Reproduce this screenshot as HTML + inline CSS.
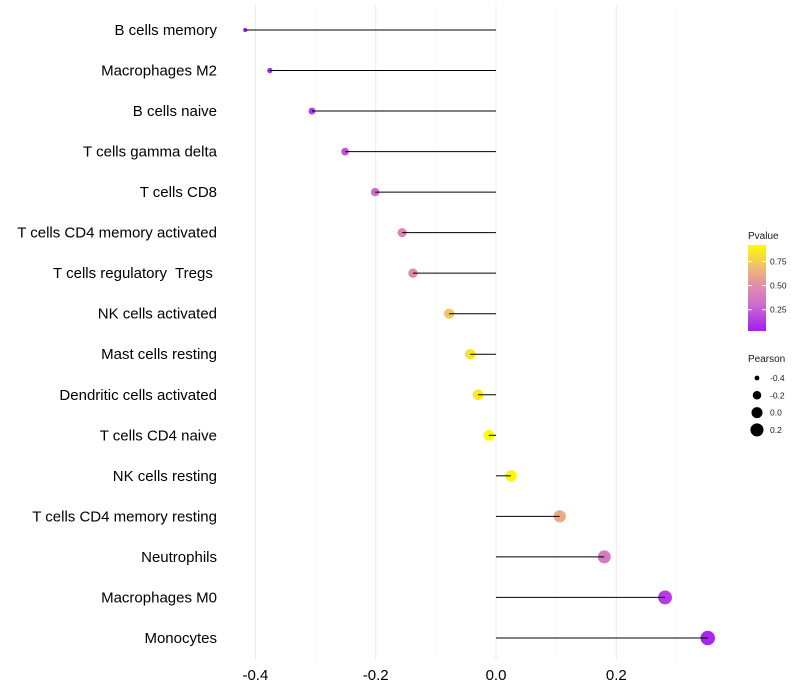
<!DOCTYPE html>
<html><head><meta charset="utf-8"><style>
body{margin:0;background:#fff;font-family:"Liberation Sans",sans-serif}
svg{display:block}
text{white-space:pre}
</style></head><body>
<svg id="chart" width="800" height="700"></svg>
<script>
const categories=["B cells memory","Macrophages M2","B cells naive","T cells gamma delta","T cells CD8","T cells CD4 memory activated","T cells regulatory  Tregs ","NK cells activated","Mast cells resting","Dendritic cells activated","T cells CD4 naive","NK cells resting","T cells CD4 memory resting","Neutrophils","Macrophages M0","Monocytes"];
const pearson=[-0.417,-0.376,-0.306,-0.251,-0.201,-0.156,-0.138,-0.078,-0.043,-0.030,-0.012,0.025,0.106,0.180,0.281,0.352];
const pvalues=[0.04,0.06,0.12,0.22,0.32,0.45,0.48,0.72,0.84,0.86,0.93,0.90,0.62,0.38,0.14,0.06];
const xTicks=[-0.4,-0.2,0.0,0.2];
const xTickLabels=["-0.4","-0.2","0.0","0.2"];
const minorTicks=[-0.3,-0.1,0.1,0.3];
const colorTicks=[0.25,0.5,0.75];
const colorTickLabels=["0.25","0.50","0.75"];
const sizeLegend=[-0.4,-0.2,0.0,0.2];
const sizeLegendLabels=["-0.4","-0.2","0.0","0.2"];

const NS="http://www.w3.org/2000/svg";
const svg=document.getElementById('chart');
function mk(t,a,p){const e=document.createElementNS(NS,t);for(const k in a)e.setAttribute(k,a[k]);(p||svg).appendChild(e);return e;}
const xS=v=>496+v*601.5;
const yS=i=>30+i*40.53;
const rS=v=>Math.sqrt(Math.max(2.5,30.5+62*v));
const stops=[[0,[160,32,240]],[0.33,[208,112,205]],[0.55,[226,145,165]],[0.75,[240,190,110]],[1,[255,252,0]]];
function col(p){const t=Math.max(0,Math.min(1,(p-0.03)/0.89));
 for(let k=1;k<stops.length;k++){if(t<=stops[k][0]){const a=stops[k-1],b=stops[k];const u=(t-a[0])/(b[0]-a[0]);
  return `rgb(${a[1].map((x,i)=>Math.round(x+(b[1][i]-x)*u))})`;}}
 return 'rgb(255,252,0)';}

const grid=mk('g',{});
minorTicks.forEach(v=>{mk('line',{x1:xS(v),x2:xS(v),y1:5,y2:660,stroke:'#f4f4f4','stroke-width':0.6},grid);});
xTicks.forEach(v=>{mk('line',{x1:xS(v),x2:xS(v),y1:5,y2:660,stroke:'#ebebeb','stroke-width':1},grid);});

categories.forEach((c,i)=>{
 const y=yS(i);
 const t=mk('text',{x:217,y:y+5,'text-anchor':'end','font-size':15,fill:'#000'});t.textContent=c;
 
 const p=mk('circle',{cx:xS(pearson[i]),cy:y,r:rS(pearson[i]),fill:col(pvalues[i])});
 
 const l=mk('line',{x1:xS(0),x2:xS(pearson[i]),y1:y,y2:y,stroke:'#000','stroke-width':1});
 
});
xTicks.forEach((v,i)=>{const t=mk('text',{x:xS(v),y:680,'text-anchor':'middle','font-size':15,fill:'#000'});t.textContent=xTickLabels[i];
 });

const lg=mk('g',{});
const tt=mk('text',{x:748,y:239,'font-size':10,fill:'#1a1a1a'},lg);tt.textContent='Pvalue';
const defs=mk('defs',{});const gr=mk('linearGradient',{id:'pg',x1:0,y1:1,x2:0,y2:0},defs);
for(let k=0;k<=20;k++){mk('stop',{offset:k/20,'stop-color':col(0.03+0.89*k/20)},gr);}
mk('rect',{x:748,y:245,width:18,height:86,fill:'url(#pg)'},lg);
const cy=p=>331-(p-0.03)*96.6;
colorTicks.forEach((v,i)=>{mk('line',{x1:748,x2:752,y1:cy(v),y2:cy(v),stroke:'#fff'},lg);mk('line',{x1:762,x2:766,y1:cy(v),y2:cy(v),stroke:'#fff'},lg);
 const t=mk('text',{x:770,y:cy(v)+3,'font-size':8.5,fill:'#1a1a1a'},lg);t.textContent=colorTickLabels[i];});

const sg=mk('g',{});
const st=mk('text',{x:748,y:362,'font-size':10,fill:'#1a1a1a'},sg);st.textContent='Pearson';
sizeLegend.forEach((v,i)=>{const y=378+i*17.3;mk('circle',{cx:757,cy:y,r:rS(v),fill:'#000'},sg);
 const t=mk('text',{x:770,y:y+3,'font-size':8.5,fill:'#1a1a1a'},sg);t.textContent=sizeLegendLabels[i];});
</script>
</body></html>
